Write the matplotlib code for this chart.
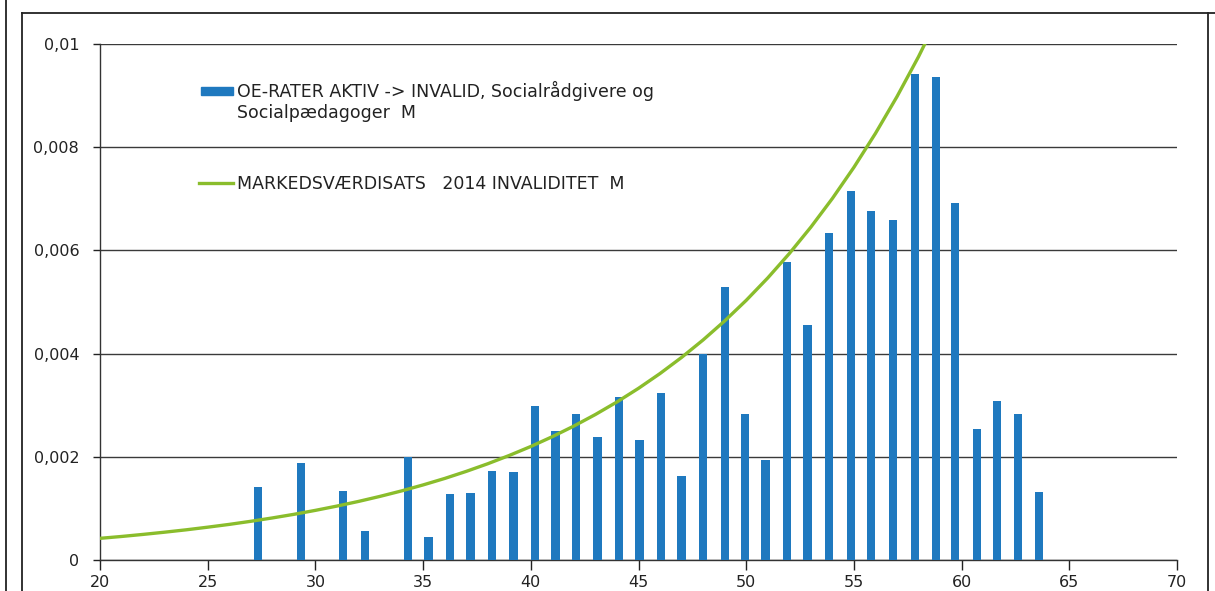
import numpy as np
import matplotlib.pyplot as plt
from matplotlib.lines import Line2D
from matplotlib.patches import Rectangle

# bar series: OE-rater aktiv -> invalid (x)
bar_x = [27.35, 29.35, 31.3, 32.3, 34.3, 35.25, 36.25, 37.2, 38.2, 39.2,
         40.2, 41.15, 42.1, 43.1, 44.1, 45.05, 46.05, 47.0, 48.0, 49.0,
         49.95, 50.9, 51.9, 52.85, 53.85, 54.85, 55.8, 56.8, 57.85, 58.8,
         59.7, 60.7, 61.65, 62.6, 63.6]
bar_y = [0.00142, 0.00188, 0.00134, 0.00057, 0.00200, 0.00045, 0.00127, 0.00129, 0.00173, 0.00170,
         0.00298, 0.00250, 0.00283, 0.00238, 0.00315, 0.00233, 0.00324, 0.00163, 0.00399, 0.00529,
         0.00282, 0.00194, 0.00578, 0.00455, 0.00633, 0.00716, 0.00677, 0.00658, 0.00941, 0.00936,
         0.00692, 0.00254, 0.00308, 0.00283, 0.00131]

# line series: markedsværdisats 2014 invaliditet
curve_age = list(range(20, 60))
curve_rate = [0.00042, 0.000456, 0.000496, 0.000539, 0.000585, 0.000636, 0.00069, 0.00075,
              0.000815, 0.000885, 0.000962, 0.001045, 0.001135, 0.001233, 0.001339, 0.001455,
              0.00158, 0.001717, 0.001865, 0.002026, 0.0022, 0.00239, 0.002596, 0.00282,
              0.003063, 0.003327, 0.003614, 0.003926, 0.004265, 0.004633, 0.005032, 0.005466,
              0.005938, 0.00645, 0.007006, 0.00761, 0.008267, 0.00898, 0.009754, 0.0106]

y_ticks = [0, 0.002, 0.004, 0.006, 0.008, 0.01]
y_labels = ['0', '0,002', '0,004', '0,006', '0,008', '0,01']
x_ticks = list(range(20, 71, 5))

label_bar = ['OE-RATER AKTIV -> INVALID, Socialrådgivere og', 'Socialpædagoger  M']
label_line = 'MARKEDSVÆRDISATS   2014 INVALIDITET  M'

W, H = 1215, 591
fig = plt.figure(figsize=(W / 100, H / 100), dpi=100)
ax = fig.add_axes([100 / W, 1 - 560 / H, 1077 / W, 516 / H])

blue = '#1f79bf'
green = '#8abd2c'

ax.bar(bar_x, bar_y, width=0.38, color=blue, zorder=3)
ax.plot(curve_age, curve_rate, color=green, lw=2.4, zorder=4)

ax.set_xlim(20, 70)
ax.set_ylim(0, 0.01)
ax.set_xticks(x_ticks)
ax.set_xticklabels([str(t) for t in x_ticks], fontsize=11.5)
ax.set_yticks(y_ticks)
ax.set_yticklabels(y_labels, fontsize=11.5)
ax.yaxis.grid(True, color='#3a3a3a', lw=1)
ax.set_axisbelow(True)
for s in ['top', 'right']:
    ax.spines[s].set_visible(False)
for s in ['left', 'bottom']:
    ax.spines[s].set_color('#333333')
    ax.spines[s].set_linewidth(1)
ax.tick_params(axis='x', direction='out', length=7, width=1, pad=4, colors='#222222')
ax.tick_params(axis='y', direction='out', length=5, width=1, pad=10, colors='#222222')

# legend drawn by hand to match the placement
fig.add_artist(Rectangle((201 / W, 1 - 95 / H), 32 / W, 8 / H, color=blue,
                         transform=fig.transFigure))
fig.text(237 / W, 1 - 97 / H, label_bar[0], fontsize=12.5, va='baseline', color='#222222')
fig.text(237 / W, 1 - 118 / H, label_bar[1], fontsize=12.5, va='baseline', color='#222222')
fig.add_artist(Line2D([199 / W, 233 / W], [1 - 183 / H] * 2, color=green, lw=2.4,
                      transform=fig.transFigure))
fig.text(237 / W, 1 - 189 / H, label_line, fontsize=12.5, va='baseline', color='#222222')

# outer frame of the scanned chart
frame = dict(color='#222222', lw=1.3, transform=fig.transFigure)
fig.add_artist(Line2D([6 / W, 6 / W], [0, 1], **frame))
fig.add_artist(Line2D([22 / W, 1], [1 - 13 / H] * 2, **frame))
fig.add_artist(Line2D([22 / W, 22 / W], [0, 1 - 13 / H], **frame))
fig.add_artist(Line2D([1208 / W, 1208 / W], [0, 1 - 13 / H], **frame))

fig.savefig('out.png', dpi=100)
